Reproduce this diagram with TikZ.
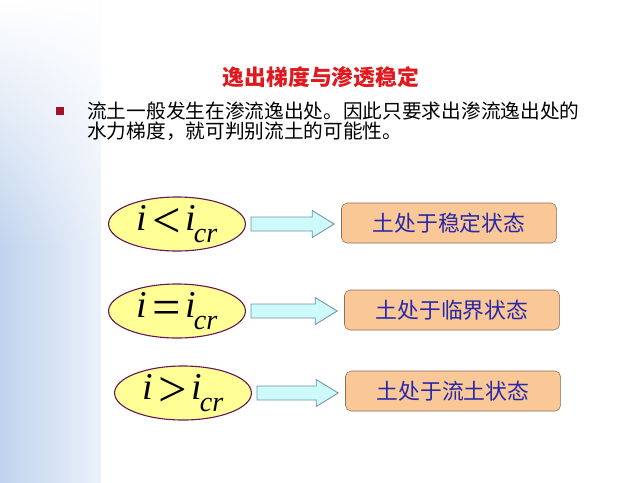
\documentclass[tikz,border=0pt]{standalone}
\usepackage{fontspec}
\newfontfamily\cjk{Noto Sans CJK SC}
\newfontfamily\tnr{Liberation Serif}
\usetikzlibrary{shapes.geometric,calc,fadings}

\definecolor{titlered}{RGB}{225,25,30}
\definecolor{bulletred}{RGB}{165,15,45}
\definecolor{ovalfill}{RGB}{255,255,150}
\definecolor{ovaldraw}{RGB}{105,25,85}
\definecolor{arrowfill}{RGB}{205,250,250}
\definecolor{arrowdraw}{RGB}{115,145,165}
\definecolor{boxfill}{RGB}{250,200,150}
\definecolor{boxdraw}{RGB}{140,110,90}
\definecolor{boxtext}{RGB}{40,40,170}
\definecolor{bandblue}{RGB}{192,211,238}
\definecolor{bandlight}{RGB}{234,241,250}

\tikzfading[name=fadetop, top color=transparent!0, bottom color=transparent!100]

\begin{document}
\begin{tikzpicture}[x=0.025cm, y=0.025cm,
    oval/.style={ellipse, draw=ovaldraw, thick, fill=ovalfill,
        minimum width=3.42cm, minimum height=1.35cm, inner sep=0pt,
        font=\tnr\fontsize{27}{27}\selectfont},
    statebox/.style={draw=boxdraw, fill=boxfill, rounded corners=4pt,
        minimum width=5.375cm, minimum height=1cm,
        text=boxtext, font=\cjk\fontsize{15.5}{18}\selectfont},
    blockarrow/.style={draw=arrowdraw, fill=arrowfill, line width=0.6pt}]
    \useasboundingbox (0,0) rectangle (642,-482);
    \fill[white] (0,0) rectangle (642,-482);

    % left band
    \shade[left color=bandblue, right color=bandlight] (0,0) rectangle (101,-482);
    \fill[white, path fading=fadetop] (0,0) rectangle (101,-250);

    % title and text
    \node[text=titlered, font=\cjk\bfseries\fontsize{15.5}{18}\selectfont] (title) at (321,-77) {逸出梯度与渗透稳定};
    \fill[bulletred] (56,-107) rectangle (64,-115);
    \node[anchor=west, align=left, inner sep=0pt, font=\cjk\fontsize{14}{14.4}\selectfont] (intro) at (87,-121)
        {流土一般发生在渗流逸出处。因此只要求出渗流逸出处的\\水力梯度，就可判别流土的可能性。};

    % three cases
    \foreach \n/\ex/\ey/\bx/\by/\rel/\txt in {1/177/224/449/223/</土处于稳定状态,
            2/177/311/452/310/=/土处于临界状态,
            3/183/393/453/391/>/土处于流土状态} {
        \node[oval] (e\n) at (\ex,-\ey)
            {\textit{i}\kern3.5pt\raisebox{-4.5pt}{\fontsize{36}{36}\selectfont\rel}\kern3.5pt\textit{i}\kern-1.5pt\raisebox{-8pt}{\fontsize{20}{20}\selectfont\textit{cr}}};
        \node[statebox] (b\n) at (\bx,-\by) {\txt};
        \draw[blockarrow] ($(e\n.east)+(5,7)$) -- ($(e\n.east -| b\n.west)+(-29,7)$)
            -- ++(0,6.5) -- ($(e\n.east -| b\n.west)+(-7,0)$)
            -- ($(e\n.east -| b\n.west)+(-29,-13.5)$) -- ++(0,6.5)
            -- ($(e\n.east)+(5,-7)$) -- cycle;
    }
\end{tikzpicture}
\end{document}
